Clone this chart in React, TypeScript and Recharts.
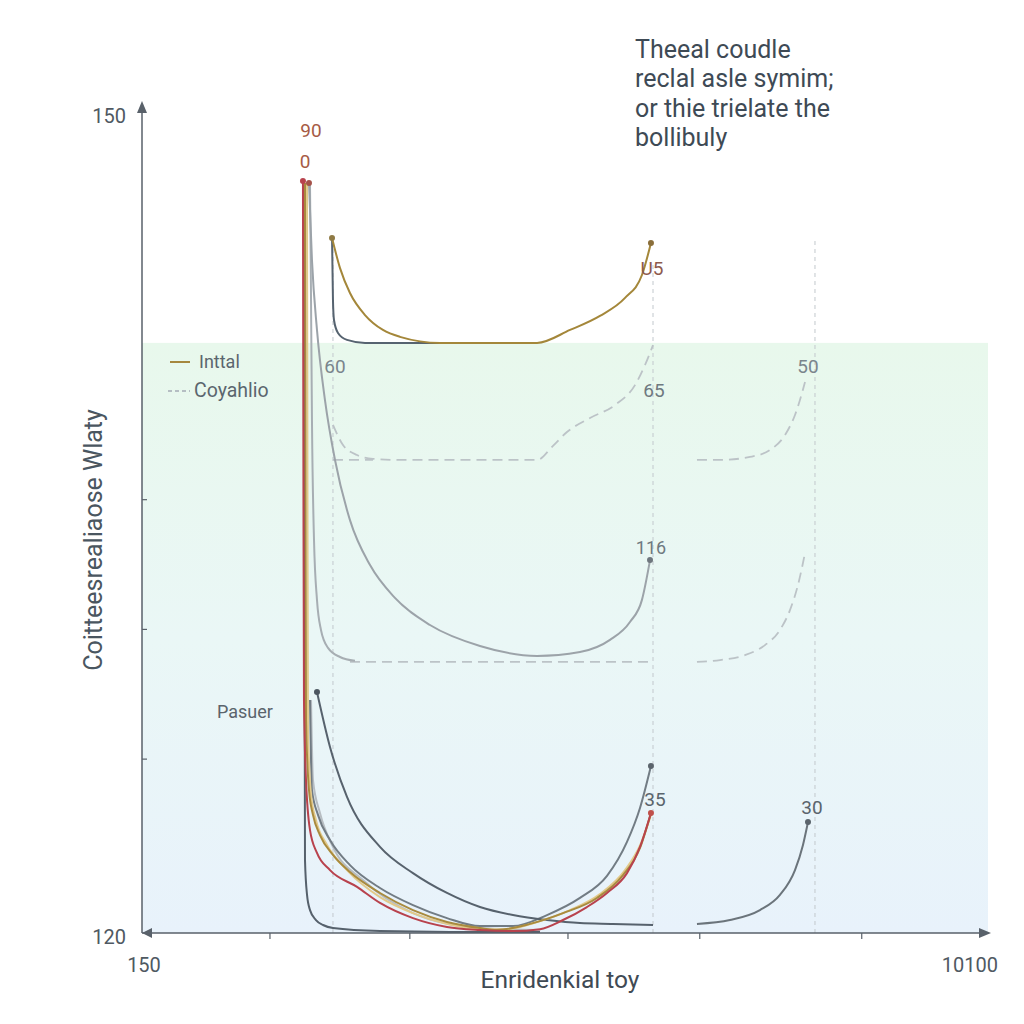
import React from 'react';
import { ComposedChart, Line, XAxis, YAxis, ReferenceArea, ReferenceLine, ReferenceDot, Label } from 'recharts';

type Pt = { x: number; y: number };

// ---- axes ----
const xDomain: [number, number] = [150, 10100];
const yDomain: [number, number] = [120, 150];
const xTicks = [150, 1655, 3300, 5160, 6710, 8615, 10100];
const yTicks = [120, 126.3, 131.0, 135.7, 150];
const xTickLabels: Record<string, string> = { '150': '150', '10100': '10100' };
const yTickLabels: Record<string, string> = { '120': '120', '150': '150' };

// ---- texts ----
const titleLines = ['Theeal coudle', 'reclal asle symim;', 'or thie trielate the', 'bollibuly'];
const xTitle = 'Enridenkial toy';
const yTitle = 'Coitteesrealiaose Wlaty';
const legendItems = [
  { name: 'Inttal', color: '#a5873e', dashed: false },
  { name: 'Coyahlio', color: '#b5bec3', dashed: true },
];

// ---- guides / shading ----
const guideLines = [
  { x: 2396, top: 145.0 },
  { x: 6160, top: 144.3 },
  { x: 8065, top: 145.2 },
];
const shadedTop = 141.38;

// ---- series ----
const goldTop: Pt[] = [
  { x: 2385, y: 145.18 }, { x: 2479, y: 144.09 }, { x: 2596, y: 143.19 }, { x: 2773, y: 142.39 },
  { x: 2984, y: 141.85 }, { x: 3184, y: 141.6 }, { x: 3655, y: 141.38 }, { x: 4796, y: 141.38 },
  { x: 5184, y: 141.85 }, { x: 5536, y: 142.36 }, { x: 5831, y: 143.01 }, { x: 6030, y: 143.84 },
  { x: 6136, y: 145.0 },
];
const slateTop: Pt[] = [
  { x: 2385, y: 145.18 }, { x: 2396, y: 142.93 }, { x: 2408, y: 142.21 }, { x: 2455, y: 141.74 },
  { x: 2561, y: 141.49 }, { x: 2773, y: 141.38 }, { x: 3655, y: 141.38 },
];
const curve116: Pt[] = [
  { x: 2114, y: 147.17 }, { x: 2149, y: 144.38 }, { x: 2208, y: 141.85 }, { x: 2302, y: 139.31 },
  { x: 2420, y: 137.14 }, { x: 2596, y: 134.96 }, { x: 2832, y: 133.33 }, { x: 3125, y: 132.14 },
  { x: 3537, y: 131.16 }, { x: 4125, y: 130.4 }, { x: 4796, y: 130.04 }, { x: 5301, y: 130.18 },
  { x: 5654, y: 130.62 }, { x: 5889, y: 131.27 }, { x: 6030, y: 132.07 }, { x: 6125, y: 133.51 },
];
const graySpike: Pt[] = [
  { x: 2126, y: 147.1 }, { x: 2138, y: 142.93 }, { x: 2149, y: 138.59 }, { x: 2173, y: 134.24 },
  { x: 2208, y: 132.07 }, { x: 2255, y: 130.98 }, { x: 2338, y: 130.33 }, { x: 2479, y: 130.0 },
  { x: 2655, y: 129.86 },
];
const dashLower: Pt[] = [{ x: 2596, y: 129.82 }, { x: 6160, y: 129.82 }];
const dashUpperStub: Pt[] = [{ x: 2396, y: 137.14 }, { x: 2867, y: 137.14 }];
const dashUpper: Pt[] = [
  { x: 2396, y: 138.41 }, { x: 2514, y: 137.68 }, { x: 2679, y: 137.32 }, { x: 2867, y: 137.18 },
  { x: 3184, y: 137.14 }, { x: 4796, y: 137.14 }, { x: 4984, y: 137.65 }, { x: 5148, y: 138.15 },
  { x: 5419, y: 138.66 }, { x: 5713, y: 139.13 }, { x: 5948, y: 139.85 }, { x: 6066, y: 140.58 },
  { x: 6160, y: 141.3 },
];
const rightDashUpper: Pt[] = [
  { x: 6677, y: 137.14 }, { x: 6948, y: 137.14 }, { x: 7301, y: 137.25 }, { x: 7536, y: 137.5 },
  { x: 7712, y: 138.04 }, { x: 7830, y: 138.77 }, { x: 7948, y: 139.96 },
];
const rightDashLower: Pt[] = [
  { x: 6677, y: 129.82 }, { x: 6948, y: 129.89 }, { x: 7242, y: 130.07 }, { x: 7477, y: 130.43 },
  { x: 7653, y: 130.98 }, { x: 7771, y: 131.7 }, { x: 7865, y: 132.61 }, { x: 7948, y: 133.77 },
];
const rightSolid: Pt[] = [
  { x: 6677, y: 120.33 }, { x: 7065, y: 120.47 }, { x: 7418, y: 120.83 }, { x: 7653, y: 121.38 },
  { x: 7830, y: 122.28 }, { x: 7924, y: 123.19 }, { x: 7983, y: 124.02 },
];
const pasuer: Pt[] = [
  { x: 2208, y: 128.73 }, { x: 2361, y: 126.74 }, { x: 2561, y: 124.93 }, { x: 2949, y: 123.12 },
  { x: 3337, y: 122.17 }, { x: 3737, y: 121.45 }, { x: 4125, y: 120.94 }, { x: 4513, y: 120.65 },
  { x: 4913, y: 120.47 }, { x: 5301, y: 120.36 }, { x: 5689, y: 120.33 }, { x: 6160, y: 120.29 },
];
const redLine: Pt[] = [
  { x: 2043, y: 147.25 }, { x: 2049, y: 135.69 }, { x: 2055, y: 128.44 }, { x: 2079, y: 125.54 },
  { x: 2126, y: 123.73 }, { x: 2208, y: 122.9 }, { x: 2361, y: 122.28 }, { x: 2679, y: 121.67 },
  { x: 2949, y: 121.09 }, { x: 3337, y: 120.54 }, { x: 3737, y: 120.22 }, { x: 4125, y: 120.11 },
  { x: 4513, y: 120.07 }, { x: 4831, y: 120.14 }, { x: 5101, y: 120.47 }, { x: 5383, y: 120.94 },
  { x: 5619, y: 121.45 }, { x: 5854, y: 122.17 }, { x: 6007, y: 123.12 }, { x: 6136, y: 124.35 },
];
const oliveLine: Pt[] = [
  { x: 2067, y: 147.17 }, { x: 2073, y: 135.69 }, { x: 2079, y: 127.72 }, { x: 2114, y: 125.18 },
  { x: 2161, y: 124.28 }, { x: 2243, y: 123.55 }, { x: 2396, y: 122.83 }, { x: 2596, y: 122.21 },
  { x: 2949, y: 121.45 }, { x: 3337, y: 120.83 }, { x: 3737, y: 120.4 }, { x: 4125, y: 120.18 },
  { x: 4325, y: 120.11 }, { x: 4713, y: 120.33 }, { x: 5101, y: 120.72 }, { x: 5501, y: 121.27 },
  { x: 5807, y: 122.1 }, { x: 6007, y: 123.08 }, { x: 6136, y: 124.35 },
];
const creamLine: Pt[] = [
  { x: 2091, y: 147.17 }, { x: 2096, y: 135.69 }, { x: 2102, y: 127.36 }, { x: 2138, y: 125.0 },
  { x: 2196, y: 124.09 }, { x: 2326, y: 123.19 }, { x: 2561, y: 122.28 }, { x: 2949, y: 121.3 },
  { x: 3337, y: 120.72 }, { x: 3737, y: 120.33 }, { x: 4125, y: 120.14 }, { x: 4419, y: 120.14 },
  { x: 4831, y: 120.43 }, { x: 5184, y: 120.83 }, { x: 5536, y: 121.41 }, { x: 5831, y: 122.28 },
  { x: 6019, y: 123.26 }, { x: 6136, y: 124.28 },
];
const lightGrayLine: Pt[] = [
  { x: 2138, y: 128.44 }, { x: 2161, y: 125.54 }, { x: 2243, y: 124.35 }, { x: 2396, y: 123.12 },
  { x: 2749, y: 121.92 }, { x: 3337, y: 120.72 }, { x: 4125, y: 120.18 }, { x: 4831, y: 120.11 },
];
const gray35: Pt[] = [
  { x: 2126, y: 128.44 }, { x: 2149, y: 125.18 }, { x: 2220, y: 124.28 }, { x: 2361, y: 123.37 },
  { x: 2596, y: 122.46 }, { x: 2949, y: 121.63 }, { x: 3337, y: 121.01 }, { x: 3737, y: 120.54 },
  { x: 4125, y: 120.25 }, { x: 4513, y: 120.25 }, { x: 4913, y: 120.65 }, { x: 5301, y: 121.27 },
  { x: 5619, y: 122.07 }, { x: 5854, y: 123.3 }, { x: 6007, y: 124.53 }, { x: 6136, y: 126.05 },
];
const slateBottom: Pt[] = [
  { x: 2055, y: 147.1 }, { x: 2061, y: 132.07 }, { x: 2067, y: 122.64 }, { x: 2091, y: 121.38 },
  { x: 2126, y: 120.83 }, { x: 2196, y: 120.47 }, { x: 2279, y: 120.29 }, { x: 2396, y: 120.18 },
  { x: 2949, y: 120.07 }, { x: 3772, y: 120.04 }, { x: 4831, y: 120.04 },
];

const DASH = '10 6';
const series = [
  { key: 'dashUpper', data: dashUpper, color: '#bcc3c7', width: 1.8, dash: DASH },
  { key: 'dashUpperStub', data: dashUpperStub, color: '#bcc3c7', width: 1.8, dash: DASH },
  { key: 'dashLower', data: dashLower, color: '#bcc3c7', width: 1.8, dash: DASH },
  { key: 'rightDashUpper', data: rightDashUpper, color: '#bcc3c7', width: 1.8, dash: DASH },
  { key: 'rightDashLower', data: rightDashLower, color: '#bcc3c7', width: 1.8, dash: DASH },
  { key: 'graySpike', data: graySpike, color: '#a7aeb3', width: 2 },
  { key: 'curve116', data: curve116, color: '#9ca3a9', width: 2 },
  { key: 'lightGray', data: lightGrayLine, color: '#b7bdc2', width: 2 },
  { key: 'slateBottom', data: slateBottom, color: '#56616c', width: 2 },
  { key: 'gray35', data: gray35, color: '#727c84', width: 2 },
  { key: 'pasuer', data: pasuer, color: '#57626d', width: 2 },
  { key: 'cream', data: creamLine, color: '#e2c98a', width: 2 },
  { key: 'olive', data: oliveLine, color: '#a98b3e', width: 2 },
  { key: 'red', data: redLine, color: '#b8424d', width: 2 },
  { key: 'slateTop', data: slateTop, color: '#566370', width: 2 },
  { key: 'goldTop', data: goldTop, color: '#a4873a', width: 2 },
  { key: 'rightSolid', data: rightSolid, color: '#6b747b', width: 2 },
];

const endDots = [
  { p: redLine[0], c: '#b8424d' },
  { p: curve116[0], c: '#a5524a' },
  { p: goldTop[0], c: '#8f7a45' },
  { p: goldTop[goldTop.length - 1], c: '#8a6e3a' },
  { p: curve116[curve116.length - 1], c: '#6f777e' },
  { p: pasuer[0], c: '#4d5761' },
  { p: gray35[gray35.length - 1], c: '#5b646c' },
  { p: redLine[redLine.length - 1], c: '#c0504a' },
  { p: rightSolid[rightSolid.length - 1], c: '#5b646c' },
];

const pointLabels = [
  { text: '90', x: 2138, y: 149.06, color: '#a65b45', size: 19 },
  { text: '0', x: 2067, y: 147.97, color: '#a65b45', size: 19 },
  { text: 'U5', x: 6148, y: 144.09, color: '#8d5a4c', size: 19 },
  { text: '60', x: 2420, y: 140.54, color: '#7a858c', size: 19 },
  { text: '65', x: 6171, y: 139.67, color: '#6f7980', size: 19 },
  { text: '50', x: 7983, y: 140.51, color: '#7a858c', size: 19 },
  { text: '116', x: 6136, y: 133.95, color: '#6f7980', size: 18 },
  { text: 'Pasuer', x: 1361, y: 128.01, color: '#5a646c', size: 18 },
  { text: '35', x: 6183, y: 124.82, color: '#5a646c', size: 19 },
  { text: '30', x: 8030, y: 124.53, color: '#5a646c', size: 19 },
];

const AXIS = '#59616a';
const FONT = 'Roboto, "Noto Sans", sans-serif';

const XTick = (props: any) => {
  const { x, y, payload } = props;
  const label = xTickLabels[String(payload.value)];
  if (label) {
    const isLast = payload.value === xDomain[1];
    return (
      <text x={isLast ? x + 10 : x + 2} y={y + 39} textAnchor={isLast ? 'end' : 'middle'} fill="#4f5962" fontSize={20} fontFamily={FONT}>
        {label}
      </text>
    );
  }
  return <line x1={x} y1={y} x2={x} y2={y + 6} stroke={AXIS} strokeWidth={1.2} />;
};

const YTick = (props: any) => {
  const { x, y, payload } = props;
  const label = yTickLabels[String(payload.value)];
  if (label) {
    return (
      <text x={x - 16} y={y + (payload.value === yDomain[1] ? 18 : 11)} textAnchor="end" fill="#4f5962" fontSize={20} fontFamily={FONT}>
        {label}
      </text>
    );
  }
  return <line x1={x} y1={y} x2={x + 5} y2={y} stroke={AXIS} strokeWidth={1.2} />;
};

const Arrow = (dir: 'up' | 'right' | 'left') => (props: any) => {
  const { cx, cy } = props;
  let pts = '';
  if (dir === 'up') pts = `${cx},${cy - 4} ${cx - 5},${cy + 8} ${cx + 5},${cy + 8}`;
  if (dir === 'right') pts = `${cx + 3},${cy} ${cx - 9},${cy - 5} ${cx - 9},${cy + 5}`;
  if (dir === 'left') pts = `${cx},${cy} ${cx + 10},${cy - 5} ${cx + 10},${cy + 5}`;
  return <polygon points={pts} fill={AXIS} />;
};

const BgShape = (props: any) => {
  const { x, y, width, height } = props;
  return (
    <g>
      <defs>
        <linearGradient id="bgGrad" x1="0" y1="0" x2="0" y2="1">
          <stop offset="0%" stopColor="#e8f8ec" />
          <stop offset="50%" stopColor="#eaf7f6" />
          <stop offset="100%" stopColor="#e8f2fb" />
        </linearGradient>
      </defs>
      <rect x={x} y={y} width={width} height={height} fill="url(#bgGrad)" />
    </g>
  );
};

export default function App() {
  return (
    <div style={{ position: 'absolute', left: 0, top: 0, width: 1024, height: 1024, background: '#ffffff', fontFamily: FONT }}>
      <ComposedChart width={1024} height={1024} margin={{ top: 105, right: 36, bottom: 31, left: 82 }}>
        <ReferenceArea x1={xDomain[0]} x2={xDomain[1]} y1={yDomain[0]} y2={shadedTop} shape={BgShape} ifOverflow="visible" />
        {guideLines.map((g) => (
          <ReferenceLine
            key={'g' + g.x}
            segment={[{ x: g.x, y: yDomain[0] }, { x: g.x, y: g.top }]}
            stroke="#c2c8cd"
            strokeDasharray="4 4"
            strokeWidth={1}
          />
        ))}
        <XAxis
          type="number"
          dataKey="x"
          domain={xDomain}
          ticks={xTicks}
          interval={0}
          allowDataOverflow
          height={60}
          tickSize={0}
          tickMargin={0}
          tickLine={false}
          tick={XTick}
          axisLine={{ stroke: AXIS, strokeWidth: 1.5 }}
          label={
            <Label
              content={(p: any) => {
                const vb = p.viewBox || { x: 142, y: 933, width: 846, height: 60 };
                return (
                  <text x={vb.x + vb.width / 2 - 5} y={vb.y + 55} textAnchor="middle" fill="#3f4a54" fontSize={24.5} fontFamily={FONT}>
                    {xTitle}
                  </text>
                );
              }}
            />
          }
        />
        <YAxis
          type="number"
          domain={yDomain}
          ticks={yTicks}
          interval={0}
          allowDataOverflow
          width={60}
          tickSize={0}
          tickMargin={0}
          tickLine={false}
          tick={YTick}
          axisLine={{ stroke: AXIS, strokeWidth: 1.5 }}
          label={
            <Label
              content={(p: any) => {
                const vb = p.viewBox || { x: 82, y: 105, width: 60, height: 828 };
                const cx = vb.x + 11;
                const cy = vb.y + vb.height / 2 + 21;
                return (
                  <text x={cx} y={cy} transform={`rotate(-90 ${cx} ${cy})`} textAnchor="middle" dominantBaseline="central" fill="#4a5660" fontSize={25} fontFamily={FONT}>
                    {yTitle}
                  </text>
                );
              }}
            />
          }
        />
        {series.map((s) => (
          <Line
            key={s.key}
            data={s.data}
            dataKey="y"
            type="monotoneX"
            stroke={s.color}
            strokeWidth={s.width}
            strokeDasharray={(s as any).dash}
            dot={false}
            activeDot={false}
            legendType="none"
            isAnimationActive={false}
          />
        ))}
        {endDots.map((d, i) => (
          <ReferenceDot key={'d' + i} x={d.p.x} y={d.p.y} r={3} fill={d.c} stroke="none" ifOverflow="visible" />
        ))}
        {pointLabels.map((l) => (
          <ReferenceDot
            key={'l' + l.text + l.x}
            x={l.x}
            y={l.y}
            r={0}
            ifOverflow="visible"
            shape={(p: any) => (
              <text x={p.cx} y={p.cy} fill={l.color} fontSize={l.size} textAnchor="middle" dominantBaseline="central" fontFamily={FONT}>
                {l.text}
              </text>
            )}
          />
        ))}
        <ReferenceDot x={xDomain[0]} y={yDomain[1]} r={0} ifOverflow="visible" shape={Arrow('up')} />
        <ReferenceDot x={xDomain[1]} y={yDomain[0]} r={0} ifOverflow="visible" shape={Arrow('right')} />
        <ReferenceDot x={xDomain[0]} y={yDomain[0]} r={0} ifOverflow="visible" shape={Arrow('left')} />
      </ComposedChart>

      <div style={{ position: 'absolute', left: 635, top: 35, fontSize: 25, lineHeight: '29.3px', color: '#3e4a55', whiteSpace: 'pre' }}>
        {titleLines.map((t) => (
          <div key={t}>{t}</div>
        ))}
      </div>

      <div style={{ position: 'absolute', left: 166, top: 347, color: '#5b666e' }}>
        {legendItems.map((it) => (
          <div key={it.name} style={{ display: 'flex', alignItems: 'center', height: 29, fontSize: it.dashed ? 19.5 : 18 }}>
            <svg width={26} height={10} style={{ marginRight: it.dashed ? 2 : 7 }}>
              <line x1={it.dashed ? 2 : 4} y1={5} x2={24} y2={5} stroke={it.color} strokeWidth={2} strokeDasharray={it.dashed ? '4 3' : undefined} />
            </svg>
            <span>{it.name}</span>
          </div>
        ))}
      </div>
    </div>
  );
}
